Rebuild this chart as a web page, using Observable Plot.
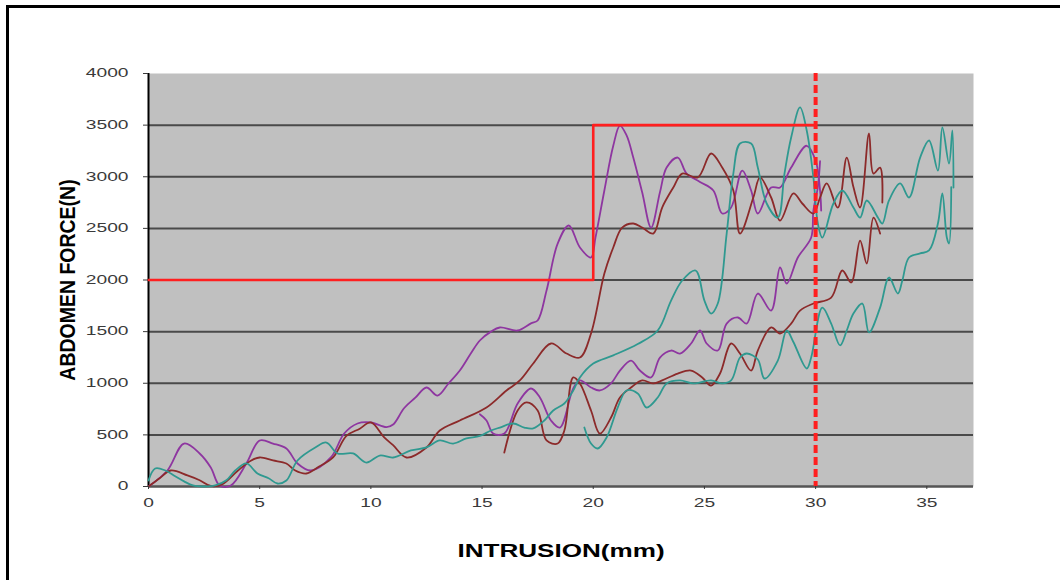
<!DOCTYPE html>
<html><head><meta charset="utf-8">
<script src="https://cdn.jsdelivr.net/npm/d3@7"></script>
<script src="https://cdn.jsdelivr.net/npm/@observablehq/plot@0.6"></script>
<style>
body{margin:0;background:#fff;}
#wrap{position:relative;width:1060px;height:580px;overflow:hidden;}
#border{position:absolute;left:6px;top:5px;width:1100px;height:600px;border-left:3px solid #000;border-top:3px solid #000;pointer-events:none;}
#chart svg{display:block;}
</style></head><body>
<div id="wrap"><div id="chart"></div><div id="border"></div></div>
<script>
// ---- data ----
const xLabel = "INTRUSION(mm)";
const yLabel = "ABDOMEN FORCE(N)";
const xTicks = [0, 5, 10, 15, 20, 25, 30, 35];
const yTicks = [0, 500, 1000, 1500, 2000, 2500, 3000, 3500, 4000];
const gridValues = [500, 1000, 1500, 2000, 2500, 3000, 3500];

const limitX = [0, 20, 20, 30];
const limitY = [2000, 2000, 3500, 3500];
const limitMarker = [30];

const purple1X = [0,0.85,1.6,2.3,2.8,3.2,3.7,4.4,5.0,5.6,6.2,6.7,7.3,8.2,8.8,9.4,10.0,10.7,11.0,11.5,12.0,12.5,13.0,13.5,14.0,14.5,14.9,15.4,15.8,16.6,17.2,17.5,17.9,18.4,18.9,19.4,19.9,20.1,20.5,20.9,21.2,21.5,21.8,22.2,22.6,23.0,23.3,23.8,24.2,24.8,25.4,25.8,26.2,26.7,27.1,27.4,28.0,28.4,28.9,29.6,30.0,30.2,30.25];
const purple1Y = [0,155,416,320,184,10,10,223,446,416,368,223,155,281,513,610,620,575,600,760,860,959,881,1000,1123,1290,1414,1500,1540,1511,1580,1608,1898,2353,2528,2315,2218,2411,2867,3300,3496,3400,3186,2850,2508,2850,3089,3186,3031,2950,2867,2644,2702,3060,2867,2644,2896,2896,3089,3300,3157,2867,2673];

const purple2X = [14.9,15.2,15.5,16.0,16.6,17.2,17.6,18.1,18.5,19.1,19.4,19.9,20.3,20.8,21.2,21.7,22.1,22.6,23.0,23.5,23.9,24.4,24.8,25.1,25.6,26.0,26.5,26.9,27.4,28.0,28.4,28.7,29.2,29.8,29.9,30.1,30.2];
const purple2Y = [700,640,513,513,804,949,862,639,571,950,1027,959,930,998,1123,1220,1123,1056,1249,1317,1288,1385,1511,1385,1317,1578,1637,1578,1869,1704,2121,1966,2218,2411,2673,2900,3150];

const maroon1X = [0,0.5,1.0,1.75,2.3,2.8,3.3,4.0,4.6,5.0,5.6,6.2,6.6,7.1,7.6,8.3,8.9,9.5,10.0,10.6,11.0,11.6,12.5,13.1,14.0,15.2,16.1,16.7,17.3,18.1,18.8,19.4,19.9,20.5,20.9,21.3,21.8,22.2,22.7,23.1,23.6,24.0,24.7,25.3,25.8,26.3,26.6,27.2,27.5,28.0,28.4,29.0,29.4,29.9,30.2,30.5,31.0,31.4,31.7,32.0,32.4,32.6,32.9,33.0];
const maroon1Y = [0,80,155,107,60,5,20,150,250,281,252,223,155,126,184,281,490,560,620,475,400,281,378,542,639,765,930,1027,1191,1385,1288,1249,1482,2063,2315,2508,2547,2508,2450,2702,2896,3031,2993,3225,3089,2867,2450,2799,2993,2799,2576,2838,2741,2644,2799,2935,2700,3186,2900,2702,3419,3031,3089,2750];

const maroon2X = [16.0,16.6,17.0,17.5,17.9,18.4,18.7,19.1,19.4,19.9,20.3,20.8,21.2,21.7,22.2,22.7,23.1,23.8,24.4,24.9,25.3,25.7,26.2,26.6,27.1,27.4,28.0,28.4,28.9,29.3,29.9,30.7,31.2,31.6,32.0,32.3,32.6,32.9];
const maroon2Y = [329,736,814,736,446,416,542,1056,998,736,513,668,862,959,1027,998,1027,1094,1123,1056,978,1094,1385,1288,1123,1317,1540,1482,1578,1704,1772,1830,2092,1976,2382,2160,2605,2450];

const teal1X = [0,0.3,0.76,1.2,1.6,2.0,2.5,3.0,3.5,3.9,4.4,4.9,5.4,5.8,6.2,6.7,7.5,8.0,8.5,9.2,9.8,10.4,11.0,11.8,12.5,13.1,13.7,14.3,14.9,15.4,15.8,16.4,16.9,17.3,17.8,18.2,18.7,19.1,19.4,20.0,20.9,22.0,22.9,23.5,24.0,24.6,25.0,25.3,25.6,26.0,26.3,26.6,27.1,27.4,27.8,28.3,28.6,28.9,29.3,29.6,29.9,30.1,30.3,30.8,31.2,31.7,32.0,32.3,32.8,33.0,33.3,33.8,34.2,34.7,35.1,35.5,35.7,36.0,36.15,36.2];
const teal1Y = [58,174,155,100,50,10,0,10,60,155,223,126,80,29,58,252,378,426,320,320,232,300,281,349,378,446,416,465,490,542,571,610,571,562,639,736,804,930,1056,1191,1270,1380,1511,1801,1995,2092,1801,1675,1772,2450,3031,3322,3322,3089,2741,2605,3031,3380,3671,3448,2993,2547,2411,2741,2867,2702,2605,2770,2605,2547,2770,2935,2799,3186,3351,3060,3477,3128,3448,2896];

const teal2X = [19.6,19.9,20.2,20.6,21.1,21.5,22.0,22.4,22.9,23.3,23.9,24.5,25.3,25.8,26.2,26.6,26.9,27.4,27.7,28.3,28.7,29.0,29.6,29.8,30.3,30.7,31.1,31.4,31.7,32.1,32.4,32.9,33.3,33.7,33.9,34.2,34.7,35.1,35.5,35.7,35.9,36.0,36.1];
const teal2Y = [571,416,368,475,765,930,901,765,862,998,1027,998,1027,998,1027,1249,1288,1230,1046,1220,1511,1400,1143,1249,1733,1578,1366,1511,1675,1772,1492,1733,2024,1869,1995,2218,2257,2286,2547,2838,2411,2353,2900];

const seriesNames = ["purple1","purple2","maroon1","maroon2","teal1","teal2"];
const seriesColors = ["#8e36a0","#8e36a0","#8c2a2a","#8c2a2a","#2f9990","#2f9990"];

// ---- build tables ----
function toRows(name, xs, ys){ return xs.map((x,i)=>({series:name, x, y:ys[i]})); }
const curves = [
  ...toRows("purple1", purple1X, purple1Y),
  ...toRows("purple2", purple2X, purple2Y),
  ...toRows("maroon1", maroon1X, maroon1Y),
  ...toRows("maroon2", maroon2X, maroon2Y),
  ...toRows("teal1", teal1X, teal1Y),
  ...toRows("teal2", teal2X, teal2Y)
];
const limit = limitX.map((x,i)=>({x, y:limitY[i]}));

const tickFont = "'Liberation Sans', Arial, sans-serif";

const chart = Plot.plot({
  width: 1060,
  height: 580,
  marginLeft: 148,
  marginRight: 87,
  marginTop: 73,
  marginBottom: 94,
  style: {background: "transparent", fontFamily: tickFont, overflow: "visible"},
  x: {domain: [0, 37.1]},
  y: {domain: [0, 4000]},
  color: {domain: seriesNames, range: seriesColors},
  marks: [
    Plot.frame({fill: "#c0c0c0", stroke: null}),
    Plot.ruleY(gridValues, {stroke: "#4a4a4a", strokeWidth: 2}),
    Plot.ruleY([0], {stroke: "#555", strokeWidth: 2.5}),
    Plot.ruleX([0], {stroke: "#000", strokeWidth: 2}),
    Plot.line(curves, {x: "x", y: "y", z: "series", stroke: "series", strokeWidth: 1.8, curve: "catmull-rom"}),
    Plot.line(limit, {x: "x", y: "y", stroke: "#ff1f1f", strokeWidth: 2.6}),
    Plot.ruleX(limitMarker, {stroke: "#ff1f1f", strokeWidth: 4, strokeDasharray: "8,4"}),
    Plot.axisY({ticks: yTicks, tickSize: 5, tickPadding: 15, label: null, fontSize: 12, color: "#3a3a3a", tickFormat: d => String(d)}),
    Plot.axisX({ticks: xTicks, tickSize: 3, tickPadding: 9, label: null, fontSize: 12, color: "#3a3a3a", tickFormat: d => String(d)}),
    Plot.text([xLabel], {frameAnchor: "bottom", dy: 65, text: d => d, fontSize: 18, fontWeight: "bold", fill: "#000", textAnchor: "middle", lineAnchor: "middle"}),
    Plot.text([yLabel], {frameAnchor: "left", dx: -80, text: d => d, rotate: -90, fontSize: 19.5, fontWeight: "bold", fill: "#000", textAnchor: "middle", lineAnchor: "middle"})
  ]
});
document.getElementById("chart").appendChild(chart);

// horizontally stretch text like the reference (the source image is widened)
function stretch(sel, sx, sy){
  chart.querySelectorAll(sel).forEach(t => {
    const tr = t.getAttribute("transform") || "";
    const x = parseFloat(t.getAttribute("x")) || 0;
    t.setAttribute("transform", `${tr} translate(${x},0) scale(${sx},${sy}) translate(${-x},0)`);
  });
}
stretch('g[aria-label="y-axis tick label"] text', 1.6, 1);
stretch('g[aria-label="x-axis tick label"] text', 1.6, 1);
const texts = chart.querySelectorAll('g[aria-label="text"] text');
if (texts[0]) { const tr = texts[0].getAttribute("transform")||""; texts[0].setAttribute("transform", tr + " scale(1.45,1)"); }
if (texts[1]) { const tr = texts[1].getAttribute("transform")||""; texts[1].setAttribute("transform", tr + " scale(1,1.1)"); }
</script></body></html>
